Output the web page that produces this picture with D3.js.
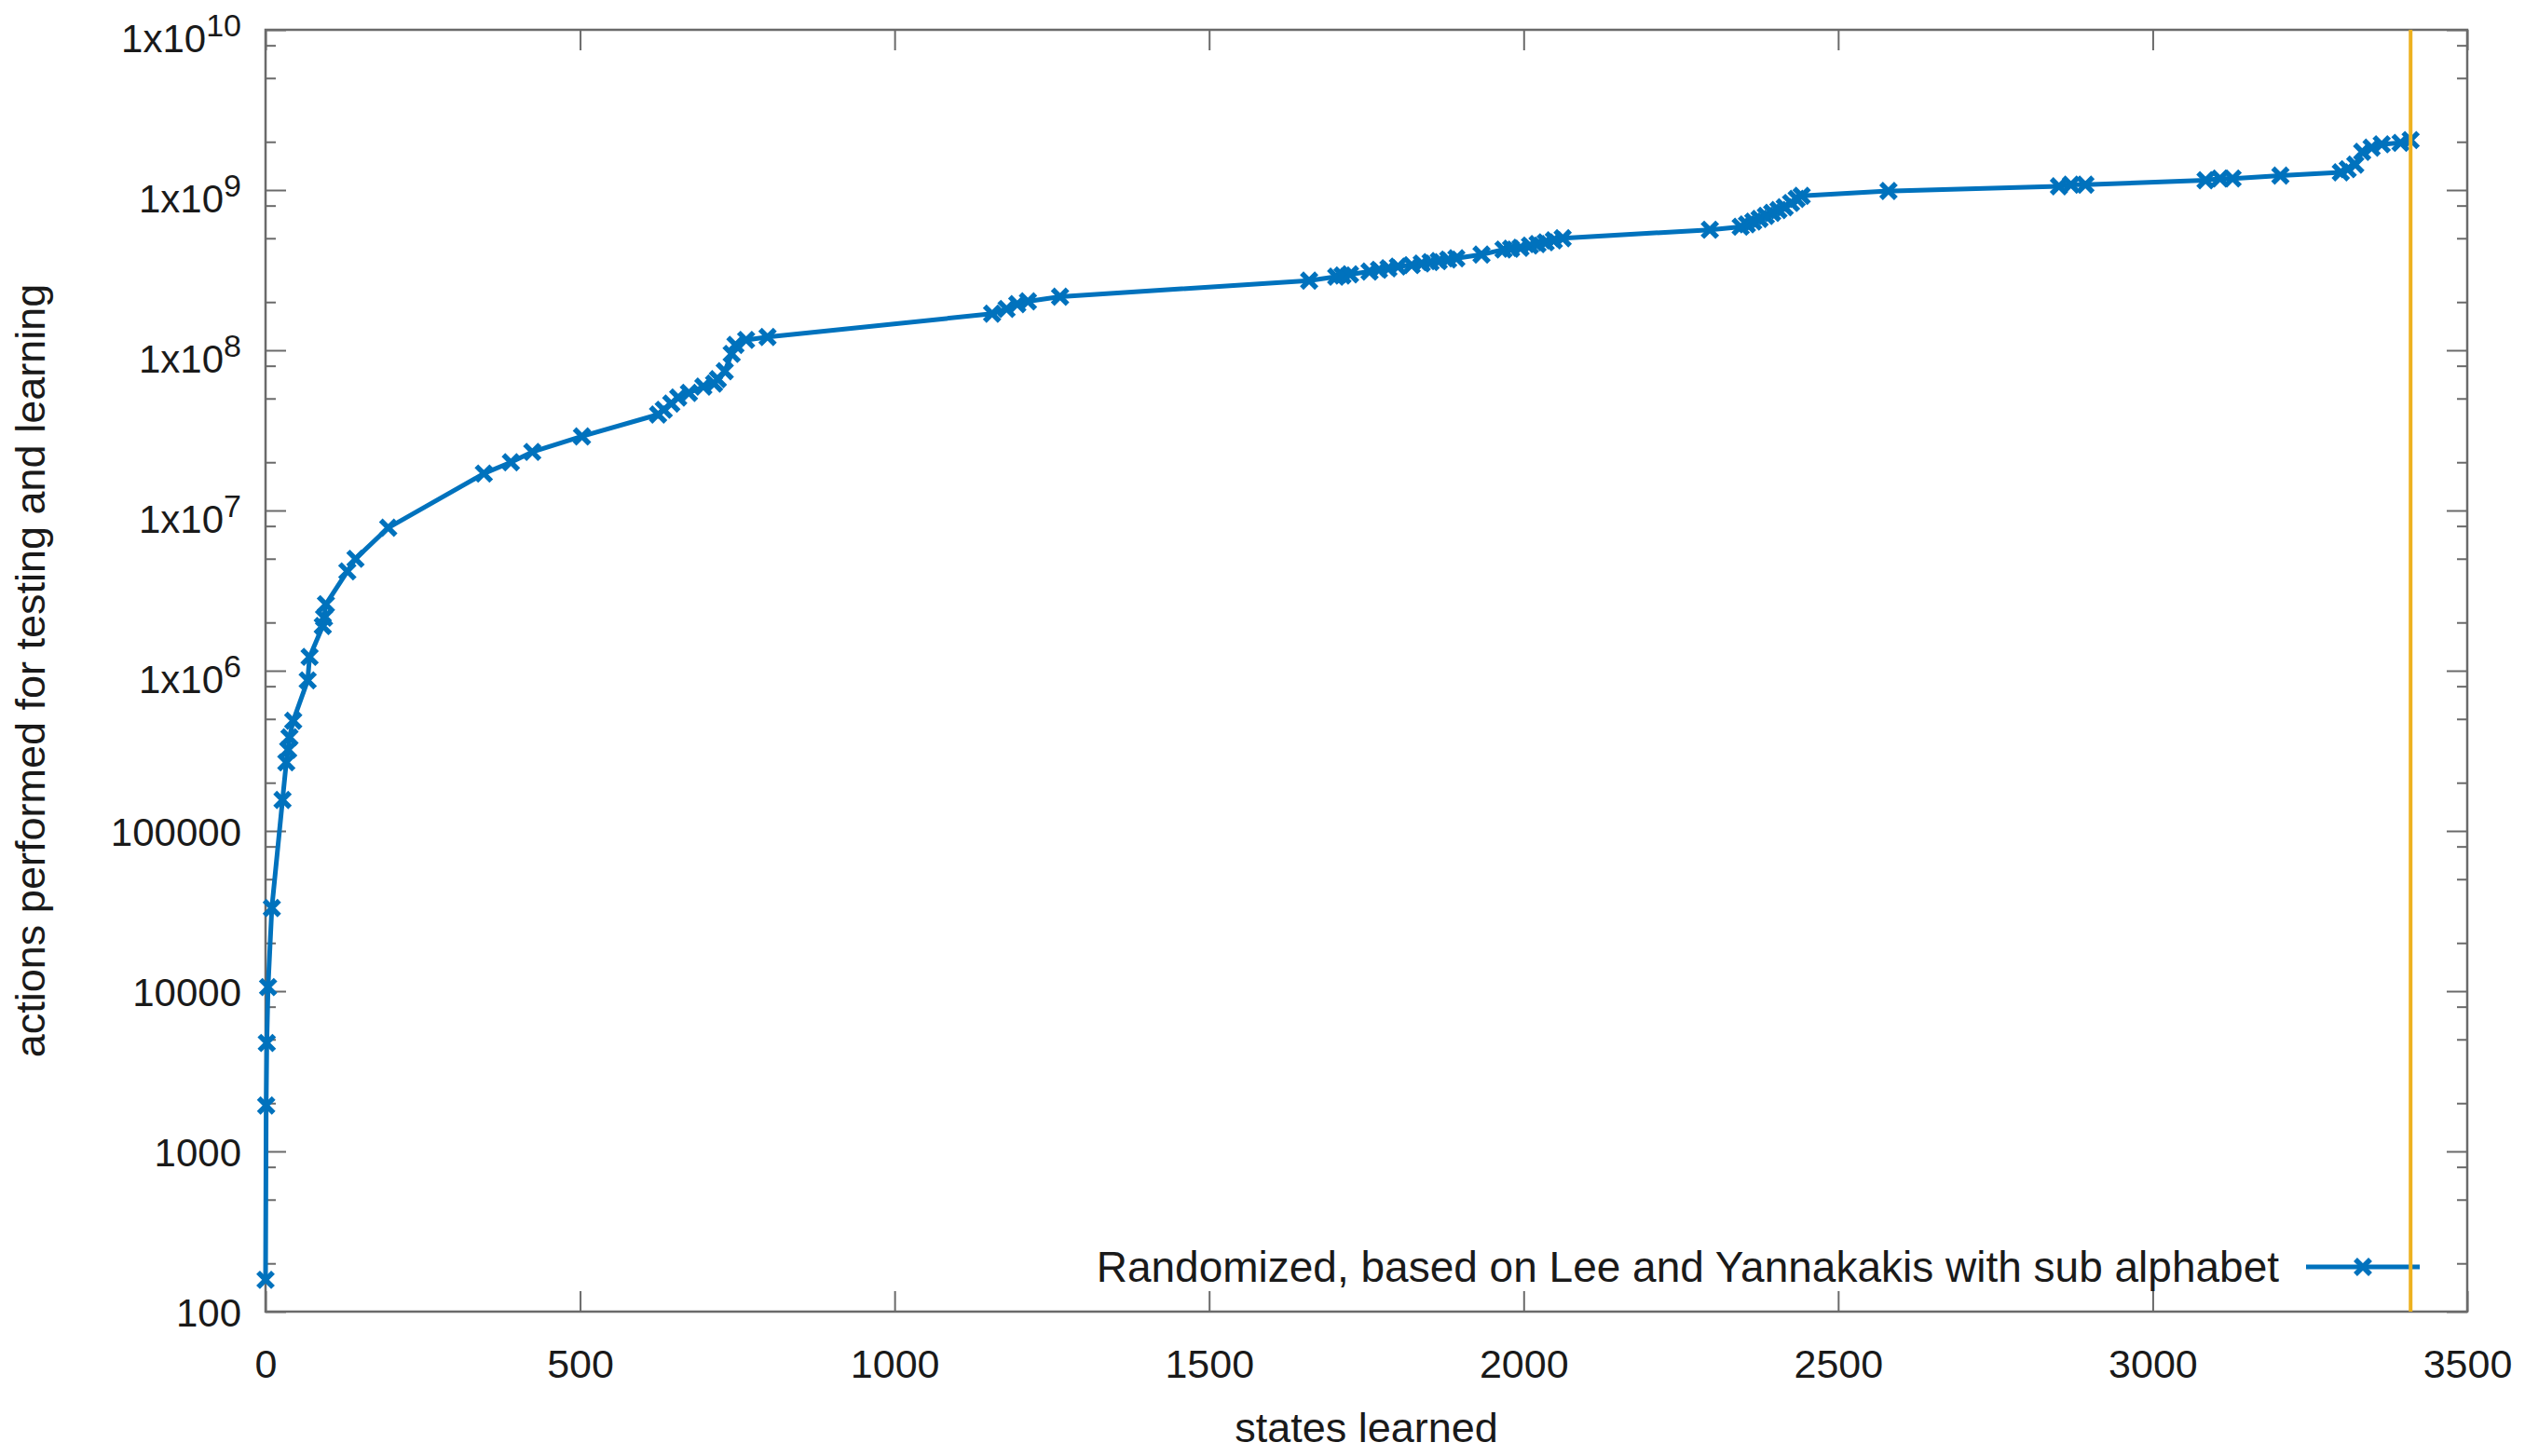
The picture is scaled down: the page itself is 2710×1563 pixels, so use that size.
<!DOCTYPE html>
<html>
<head>
<meta charset="utf-8">
<script src="https://cdn.jsdelivr.net/npm/d3@7"></script>
<style>
  body { margin: 0; background: #fff; }
  text { font-family: "Liberation Sans", Arial, Helvetica, sans-serif; fill: #1a1a1a; }
</style>
</head>
<body>
<div id="chart"></div>
<script>
'use strict';

// states learned (x) and actions performed (y)
const states = [
  0, 1, 2, 4, 10, 27, 33, 36, 38, 44, 67, 70, 91, 93, 96, 130, 143, 195,
  347, 390, 424, 503, 624, 633, 645, 656, 673, 696, 713, 719, 730, 741, 747, 764, 798,
  1155, 1178, 1195, 1212, 1263,
  1659, 1702, 1712, 1724, 1755, 1770, 1785, 1800, 1822, 1838, 1852, 1865, 1880, 1893,
  1933, 1968, 1980, 1995, 2010, 2022, 2035, 2048, 2062,
  2296, 2345, 2355, 2365, 2375, 2385, 2395, 2405, 2415, 2425, 2434, 2442,
  2580, 2851, 2870, 2893, 3084, 3107, 3127, 3203,
  3299, 3310, 3322, 3333, 3348, 3364, 3394, 3410
];
const actions = [
  158, 1935, 4750, 10600, 33000, 156000, 268000, 321000, 384000, 487000, 870000, 1.22e6, 1.9e6, 2.14e6, 2.6e6, 4.17e6, 4.99e6, 7.8e6,
  1.7e7, 2.0e7, 2.32e7, 2.9e7, 3.97e7, 4.25e7, 4.65e7, 5.07e7, 5.42e7, 5.93e7, 6.2e7, 6.6e7, 7.4e7, 9.5e7, 1.08e8, 1.16e8, 1.21e8,
  1.69e8, 1.81e8, 1.94e8, 2.02e8, 2.16e8,
  2.72e8, 2.88e8, 2.93e8, 2.98e8, 3.1e8, 3.18e8, 3.25e8, 3.33e8, 3.4e8, 3.48e8, 3.55e8, 3.6e8, 3.68e8, 3.75e8,
  3.96e8, 4.25e8, 4.3e8, 4.36e8, 4.5e8, 4.6e8, 4.72e8, 4.85e8, 5.0e8,
  5.65e8, 5.9e8, 6.1e8, 6.35e8, 6.6e8, 6.9e8, 7.2e8, 7.5e8, 7.8e8, 8.3e8, 8.8e8, 9.2e8,
  9.86e8, 1.055e9, 1.08e9, 1.08e9, 1.15e9, 1.18e9, 1.18e9, 1.23e9,
  1.29e9, 1.35e9, 1.44e9, 1.73e9, 1.84e9, 1.93e9, 1.97e9, 2.05e9
];

const xTicks = [0, 500, 1000, 1500, 2000, 2500, 3000, 3500];
const yTicks = [1e2, 1e3, 1e4, 1e5, 1e6, 1e7, 1e8, 1e9, 1e10];
const yMinorFactors = [2, 5, 8];
const targetStates = 3410;

const seriesLabel = 'Randomized, based on Lee and Yannakakis with sub alphabet';
const xTitle = 'states learned';
const yTitle = 'actions performed for testing and learning';

const width = 2710;
const height = 1563;
const margin = {top: 32, right: 62, bottom: 155, left: 285};
const plotWidth = width - margin.left - margin.right;
const plotHeight = height - margin.top - margin.bottom;

const blue = '#0072bd';
const orange = '#edb120';
const axisColor = '#6a6a6a';

const data = states.map((s, i) => ({states: s, actions: actions[i]}));

const svg = d3.select('#chart').append('svg')
  .attr('width', width)
  .attr('height', height);

const plot = svg.append('g')
  .attr('transform', `translate(${margin.left}, ${margin.top})`);

const xScale = d3.scaleLinear()
  .domain([0, 3500])
  .range([0, plotWidth]);

const yScale = d3.scaleLog()
  .domain([1e2, 1e10])
  .range([plotHeight, 0]);

const yMinor = [];
yTicks.slice(0, -1).forEach((t) => {
  yMinorFactors.forEach((f) => yMinor.push(t * f));
});

function styleTicks(g) {
  g.select('.domain').remove();
  g.selectAll('line').attr('stroke', axisColor).attr('stroke-width', 2);
}

// x ticks, bottom and mirrored on top (pointing inwards)
plot.append('g')
  .attr('transform', `translate(0, ${plotHeight})`)
  .call(d3.axisBottom(xScale).tickValues(xTicks).tickSize(-22).tickPadding(40)
    .tickFormat(d3.format('d')))
  .call(styleTicks)
  .selectAll('text')
    .attr('font-size', 43)
    .attr('fill', '#1a1a1a');

plot.append('g')
  .call(d3.axisTop(xScale).tickValues(xTicks).tickSize(-22).tickFormat(''))
  .call(styleTicks);

// y ticks, left and mirrored on right
[['axisLeft', 0], ['axisRight', plotWidth]].forEach(([axisName, x]) => {
  plot.append('g')
    .attr('transform', `translate(${x}, 0)`)
    .call(d3[axisName](yScale).tickValues(yTicks).tickSize(-22).tickFormat(''))
    .call(styleTicks);
  plot.append('g')
    .attr('transform', `translate(${x}, 0)`)
    .call(d3[axisName](yScale).tickValues(yMinor).tickSize(-11).tickFormat(''))
    .call(styleTicks);
});

// y tick labels, 1x10^n above a million
const yLabels = plot.append('g')
  .selectAll('text')
  .data(yTicks)
  .join('text')
    .attr('x', -26)
    .attr('y', (d) => yScale(d) + (d >= 1e6 ? 24 : 16))
    .attr('text-anchor', 'end')
    .attr('font-size', 42);

yLabels.each(function (d) {
  const t = d3.select(this);
  const exp = Math.round(Math.log10(d));
  if (d >= 1e6) {
    t.append('tspan').text('1x10');
    t.append('tspan')
      .attr('dy', -17)
      .attr('font-size', 34)
      .text(exp);
  } else {
    t.text(String(d));
  }
});

// frame
plot.append('rect')
  .attr('width', plotWidth)
  .attr('height', plotHeight)
  .attr('fill', 'none')
  .attr('stroke', axisColor)
  .attr('stroke-width', 2.5);

// series
const line = d3.line()
  .x((d) => xScale(d.states))
  .y((d) => yScale(d.actions));

plot.append('path')
  .datum(data)
  .attr('d', line)
  .attr('fill', 'none')
  .attr('stroke', blue)
  .attr('stroke-width', 5)
  .attr('stroke-linejoin', 'round');

const cross = 'M-8,-8L8,8M-8,8L8,-8';

plot.append('g')
  .selectAll('path')
  .data(data)
  .join('path')
    .attr('d', cross)
    .attr('transform', (d) => `translate(${xScale(d.states)}, ${yScale(d.actions)})`)
    .attr('fill', 'none')
    .attr('stroke', blue)
    .attr('stroke-width', 5.5);

// legend
const legend = plot.append('g')
  .attr('transform', `translate(0, ${plotHeight - 48})`);

legend.append('text')
  .attr('x', 2446 - margin.left)
  .attr('y', 16)
  .attr('text-anchor', 'end')
  .attr('font-size', 46)
  .text(seriesLabel);

legend.append('line')
  .attr('x1', 2475 - margin.left)
  .attr('x2', 2597 - margin.left)
  .attr('stroke', blue)
  .attr('stroke-width', 5);

legend.append('path')
  .attr('d', cross)
  .attr('transform', `translate(${2536 - margin.left}, 0)`)
  .attr('fill', 'none')
  .attr('stroke', blue)
  .attr('stroke-width', 5.5);

// final number of states
plot.append('line')
  .attr('x1', xScale(targetStates))
  .attr('x2', xScale(targetStates))
  .attr('y1', 0)
  .attr('y2', plotHeight)
  .attr('stroke', orange)
  .attr('stroke-width', 4);

// axis titles
svg.append('text')
  .attr('x', margin.left + plotWidth / 2)
  .attr('y', 1548)
  .attr('text-anchor', 'middle')
  .attr('font-size', 45)
  .text(xTitle);

svg.append('text')
  .attr('transform', `translate(48, ${margin.top + plotHeight / 2}) rotate(-90)`)
  .attr('text-anchor', 'middle')
  .attr('font-size', 45)
  .text(yTitle);
</script>
</body>
</html>
